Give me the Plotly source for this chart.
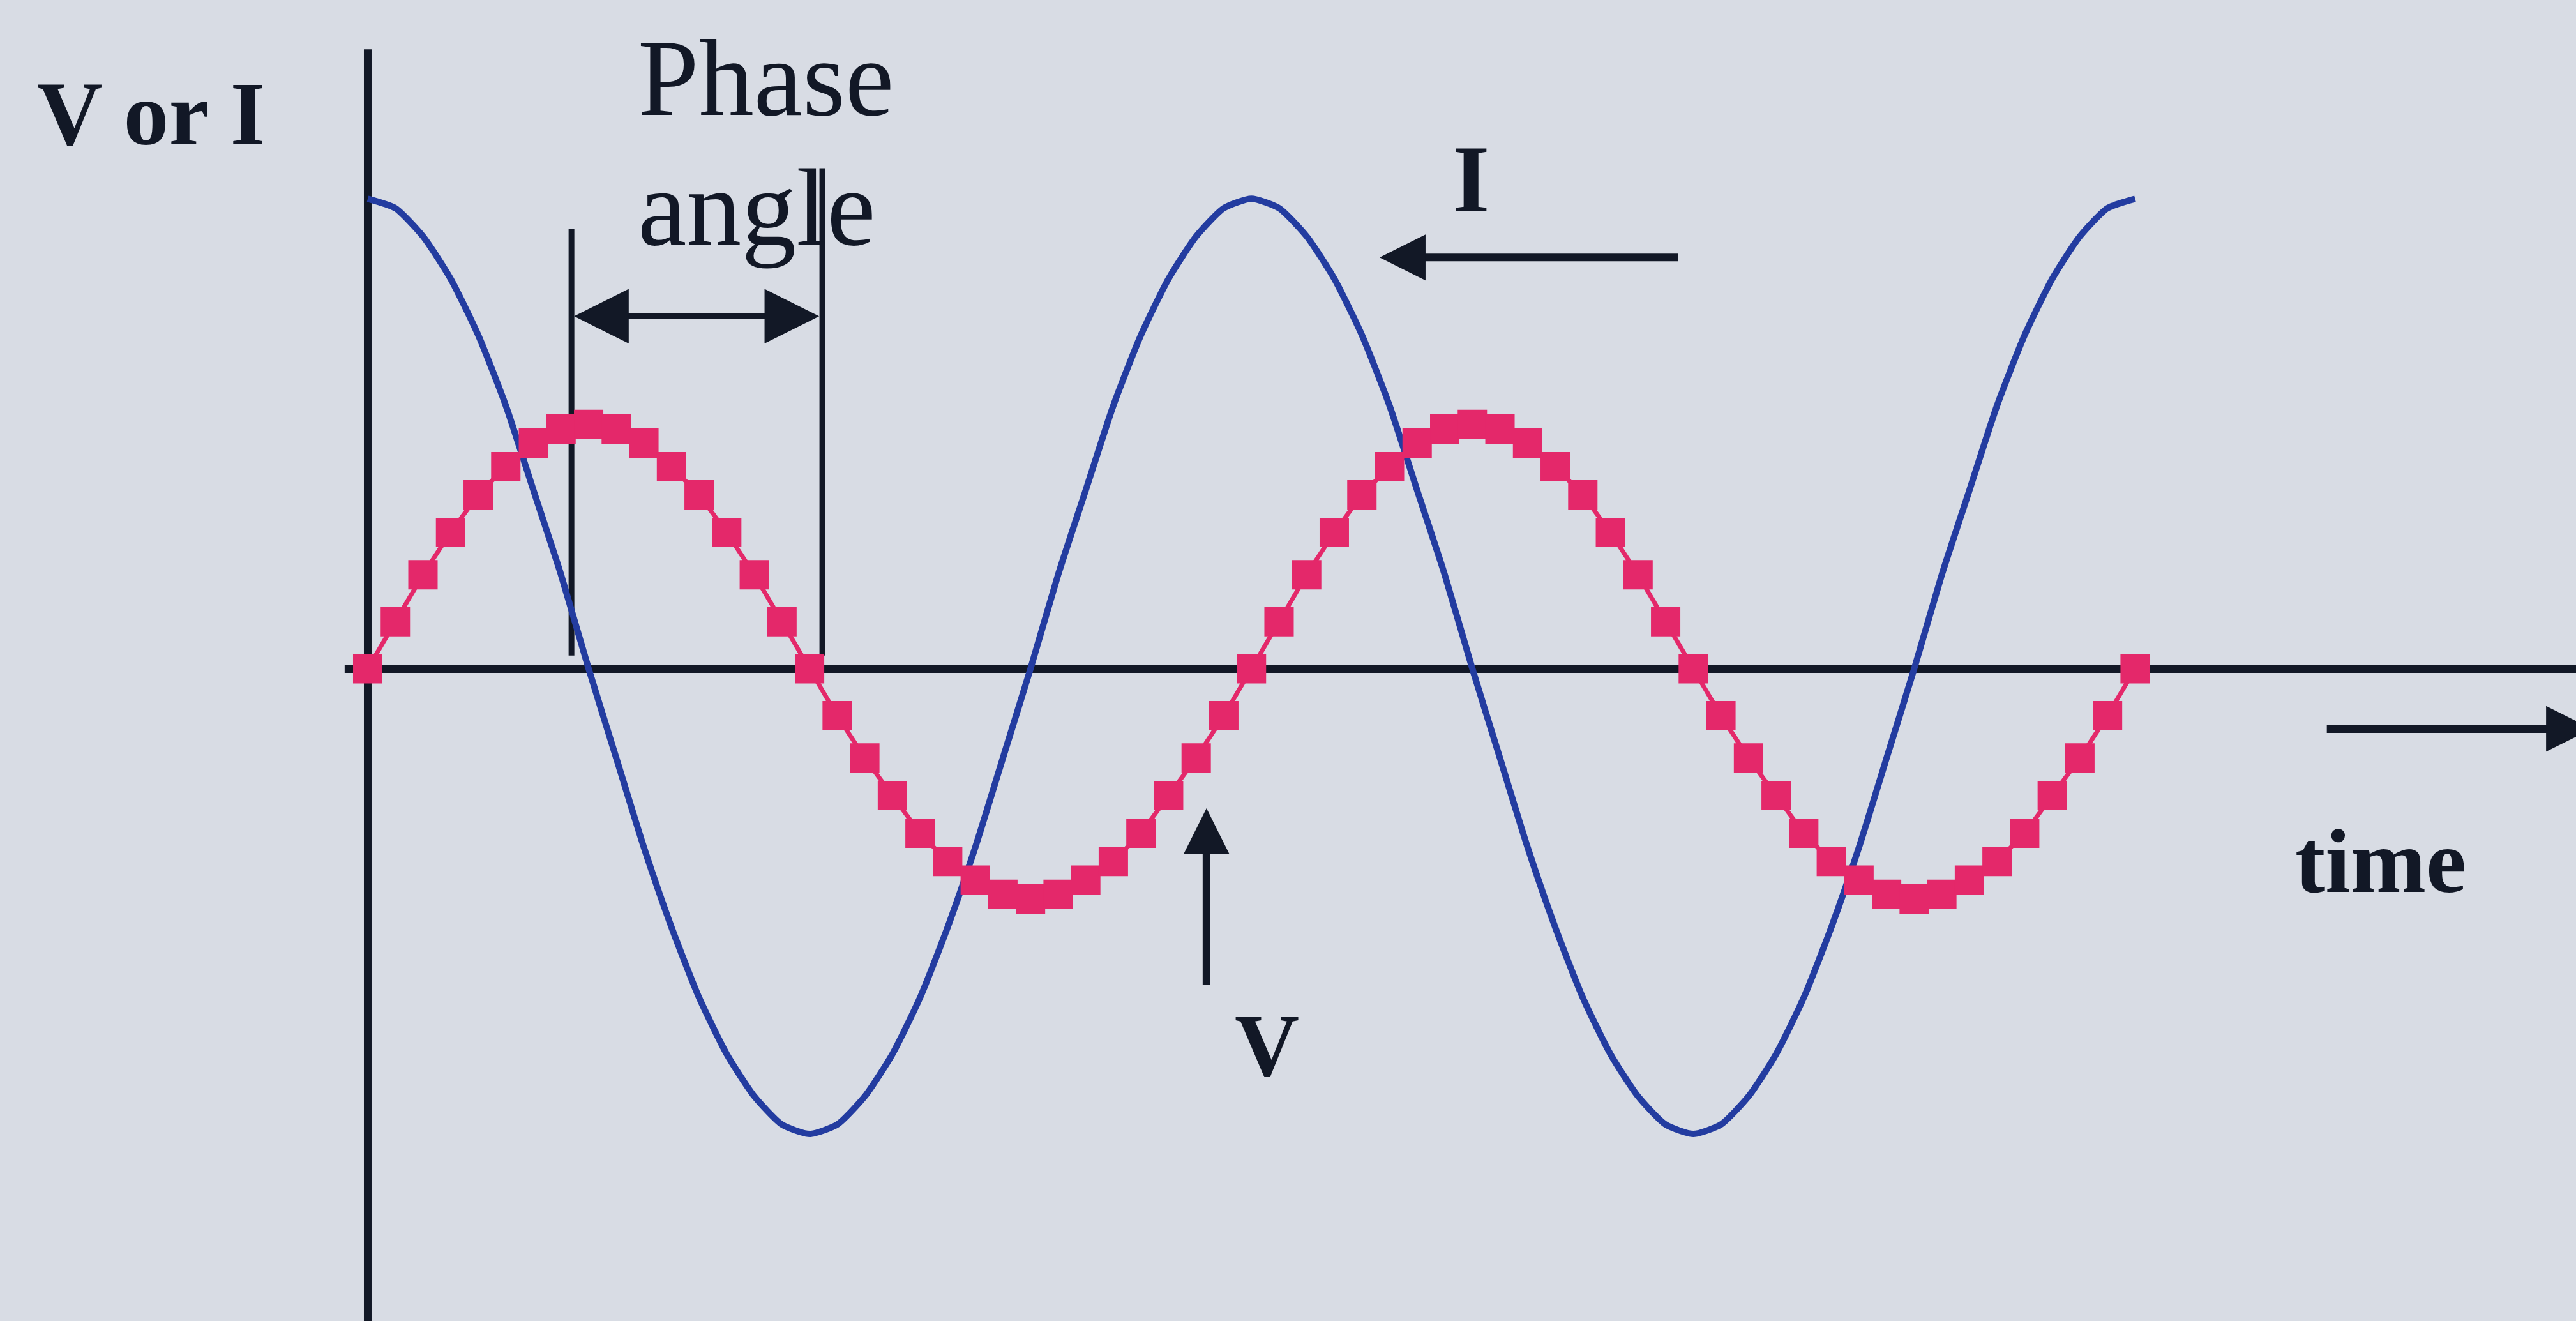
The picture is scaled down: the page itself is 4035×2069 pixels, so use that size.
import plotly.graph_objects as go

# ---- data ----
angle_deg = [0, 11.25, 22.5, 33.75, 45, 56.25, 67.5, 78.75, 90, 101.25, 112.5, 123.75, 135, 146.25, 157.5, 168.75,
             180, 191.25, 202.5, 213.75, 225, 236.25, 247.5, 258.75, 270, 281.25, 292.5, 303.75, 315, 326.25, 337.5, 348.75,
             360, 371.25, 382.5, 393.75, 405, 416.25, 427.5, 438.75, 450, 461.25, 472.5, 483.75, 495, 506.25, 517.5, 528.75,
             540, 551.25, 562.5, 573.75, 585, 596.25, 607.5, 618.75, 630, 641.25, 652.5, 663.75, 675, 686.25, 697.5, 708.75, 720]

current_I = [1.00, 0.98, 0.92, 0.83, 0.71, 0.56, 0.38, 0.20, 0.00, -0.19, -0.38, -0.55, -0.70, -0.82, -0.91, -0.97,
             -0.99, -0.97, -0.91, -0.82, -0.70, -0.55, -0.38, -0.19, 0.00, 0.20, 0.38, 0.56, 0.71, 0.83, 0.92, 0.98,
             1.00, 0.98, 0.92, 0.83, 0.71, 0.56, 0.38, 0.20, 0.00, -0.19, -0.38, -0.55, -0.70, -0.82, -0.91, -0.97,
             -0.99, -0.97, -0.91, -0.82, -0.70, -0.55, -0.38, -0.19, 0.00, 0.20, 0.38, 0.56, 0.71, 0.83, 0.92, 0.98, 1.00]

voltage_V = [0.00, 0.10, 0.20, 0.29, 0.37, 0.43, 0.48, 0.51, 0.52, 0.51, 0.48, 0.43, 0.37, 0.29, 0.20, 0.10,
             0.00, -0.10, -0.19, -0.27, -0.35, -0.41, -0.45, -0.48, -0.49, -0.48, -0.45, -0.41, -0.35, -0.27, -0.19, -0.10,
             0.00, 0.10, 0.20, 0.29, 0.37, 0.43, 0.48, 0.51, 0.52, 0.51, 0.48, 0.43, 0.37, 0.29, 0.20, 0.10,
             0.00, -0.10, -0.19, -0.27, -0.35, -0.41, -0.45, -0.48, -0.49, -0.48, -0.45, -0.41, -0.35, -0.27, -0.19, -0.10, 0.00]

W, H = 4035, 2069
BG = "#d8dce4"
BLUE = "#233ca0"
PINK = "#e4286a"
INK = "#121826"
SERIF = "Liberation Serif, Times New Roman, serif"

fig = go.Figure()

# axes lines
fig.add_shape(type="line", x0=-9.4, x1=910, y0=0, y1=0, xref="x", yref="y",
              line=dict(color=INK, width=13), layer="below")
fig.add_shape(type="line", x0=0, x1=0, y0=1.318, y1=-1.6, xref="x", yref="y",
              line=dict(color=INK, width=12), layer="below")
# phase angle guide lines
fig.add_shape(type="line", x0=83.0, x1=83.0, y0=0.936, y1=0.028, xref="x", yref="y",
              line=dict(color=INK, width=9), layer="below")
fig.add_shape(type="line", x0=185.2, x1=185.2, y0=1.065, y1=0.028, xref="x", yref="y",
              line=dict(color=INK, width=9), layer="below")

fig.add_trace(go.Scatter(x=angle_deg, y=current_I, mode="lines", name="I",
                         line=dict(color=BLUE, width=10, shape="spline", smoothing=0.6)))
fig.add_trace(go.Scatter(x=angle_deg, y=voltage_V, mode="lines+markers", name="V",
                         line=dict(color=PINK, width=7),
                         marker=dict(symbol="square", size=46, color=PINK, line=dict(width=0))))

def arrow(x, y, ax, ay, width, size, side="end"):
    fig.add_annotation(x=x, y=y, ax=ax, ay=ay, xref="x", yref="y", axref="x", ayref="y",
                       text="", showarrow=True, arrowhead=2, startarrowhead=2, arrowside=side,
                       arrowwidth=width, arrowsize=size, startarrowsize=size, arrowcolor=INK)

# phase angle double arrow
arrow(183.9, 0.750, 83.7, 0.750, 9, 1.9, side="end+start")
# I arrow
arrow(412.2, 0.875, 534.2, 0.875, 12, 1.2)
# V arrow
arrow(341.7, -0.297, 341.7, -0.675, 12, 1.2)
# time arrow
arrow(906.0, -0.128, 797.7, -0.128, 13, 1.1)

def label(text, px, py, size, bold=False, xanchor="center"):
    t = f"<b>{text}</b>" if bold else text
    fig.add_annotation(x=px / W, y=1 - py / H, xref="paper", yref="paper", text=t, showarrow=False,
                       xanchor=xanchor, yanchor="middle",
                       font=dict(family=SERIF, size=size, color=INK))

label("V or I", 237, 178, 142, bold=True)
label("Phase", 997, 122, 172, xanchor="left")
label("angle", 997, 325, 172, xanchor="left")
label("I", 2304, 280, 150, bold=True)
label("V", 1984, 1637, 140, bold=True)
label("time", 3729, 1349, 142, bold=True)

fig.update_layout(
    width=W, height=H, margin=dict(l=0, r=0, t=0, b=0),
    paper_bgcolor=BG, plot_bgcolor=BG, showlegend=False,
    xaxis=dict(range=[-149.8, 899.6], visible=False, fixedrange=True),
    yaxis=dict(range=[-1.388, 1.423], visible=False, fixedrange=True),
)

fig.write_html("out.html", config={"displayModeBar": False},
               post_script="document.body.style.margin='0';document.body.style.overflow='hidden';")
